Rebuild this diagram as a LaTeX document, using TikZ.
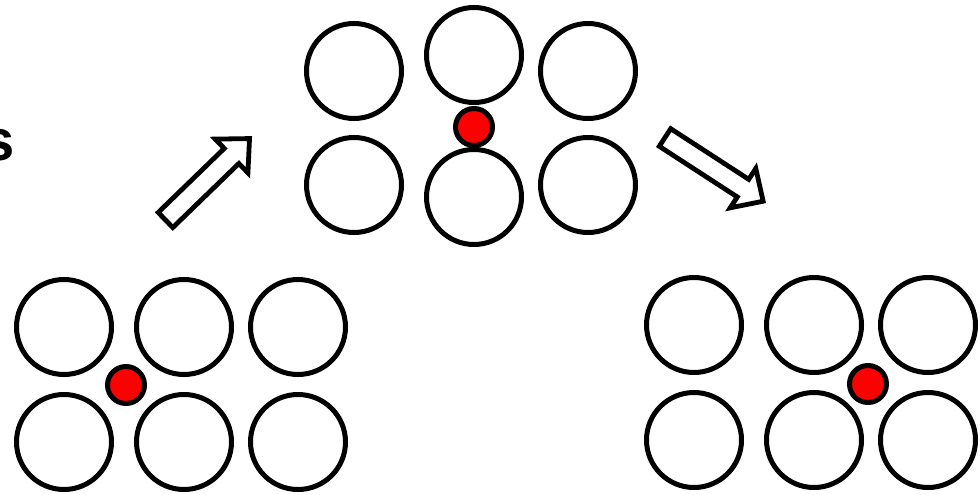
\documentclass[tikz,border=0pt]{standalone}
\usepackage{fontspec}
\setmainfont{Liberation Sans}
\begin{document}
\begin{tikzpicture}[x=1pt,y=-1pt,
  atom/.style={circle,draw=black,line width=5pt,fill=white,minimum size=95pt,inner sep=0pt},
  interst/.style={circle,draw=black,line width=5pt,fill=red,minimum size=37pt,inner sep=0pt},
  blockarrow/.style={draw=black,line width=4.8pt,fill=white,line join=miter}]
\useasboundingbox (0,0) rectangle (980,495);
% label
\node[anchor=base east,inner sep=0pt,font=\fontsize{58}{60}\selectfont\bfseries] (lbl) at (15,160) {s};
% left configuration
\node[atom] (l11) at (64,327) {};
\node[atom] (l12) at (184,327) {};
\node[atom] (l13) at (298,327) {};
\node[atom] (l21) at (64,442) {};
\node[atom] (l22) at (184,442) {};
\node[atom] (l23) at (298,442) {};
\node[interst] (lred) at (126,385) {};
% middle configuration
\node[atom] (m11) at (354,71) {};
\node[atom] (m12) at (474,55) {};
\node[atom] (m13) at (588,71) {};
\node[atom] (m21) at (354,185) {};
\node[atom] (m22) at (474,197) {};
\node[atom] (m23) at (588,185) {};
\node[interst] (mred) at (474,127) {};
% right configuration
\node[atom] (r11) at (694,325) {};
\node[atom] (r12) at (814,325) {};
\node[atom] (r13) at (928,325) {};
\node[atom] (r21) at (694,440) {};
\node[atom] (r22) at (814,440) {};
\node[atom] (r23) at (928,440) {};
\node[interst] (rred) at (868,384) {};
% block arrows
\draw[blockarrow,shift={(165.5,220)},rotate=44.1]
  (0,-10.5) -- (92,-10.5) -- (92,-23.5) -- (117,0) -- (92,23.5) -- (92,10.5) -- (0,10.5) -- cycle;
\draw[blockarrow,shift={(665,137.5)},rotate=-33]
  (0,-10.5) -- (93,-10.5) -- (93,-23.5) -- (117,0) -- (93,23.5) -- (93,10.5) -- (0,10.5) -- cycle;
\end{tikzpicture}
\end{document}
